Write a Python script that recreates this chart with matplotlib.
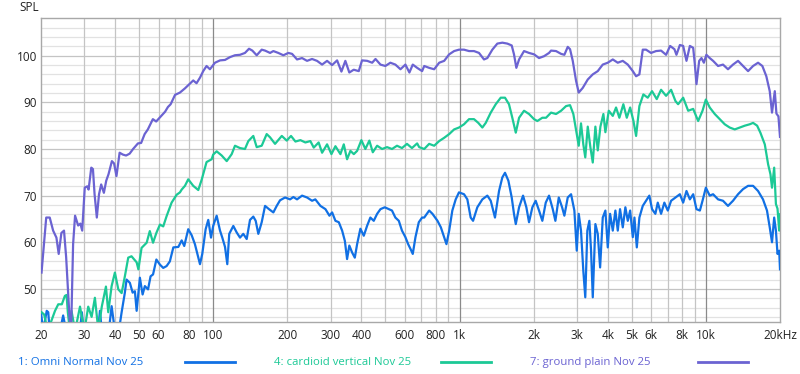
import matplotlib
matplotlib.use("Agg")
import matplotlib.pyplot as plt
from matplotlib.lines import Line2D

plt.rcParams['font.family'] = ['Open Sans', 'DejaVu Sans']

# Frekvencie (Hz) a hladiny (dB SPL) odcitane z grafu
omni_hz = [20, 20.4, 21.1, 21.4, 21.7, 23.9, 24.6, 25.3, 28.8, 29.3, 29.8, 34.1, 34.7, 35.3,
           37.7, 38.7, 39.2, 39.9, 41.4, 42.5, 43.8, 44.5, 45.9, 47.1, 48.1, 48.9, 50.4, 51.7,
           52.8, 54.4, 55.7, 57.0, 58.8, 60.8, 62.7, 64.7, 66.7, 68.9, 72.2, 74.5, 76.3, 79.2,
           81.8, 84.3, 87.0, 88.4, 90.3, 93.2, 95.5, 98.0, 100, 103.3, 106.6, 108.9, 111.7,
           114.1, 116.2, 120.7, 124.6, 128.5, 132.5, 136.8, 141.1, 145.5, 148.8, 152.5, 157.4,
           162.4, 168.5, 175.5, 181.1, 186.8, 195.8, 205.2, 211.6, 219, 229.5, 240.5, 252,
           259.8, 272.5, 285.6, 296.4, 304, 313.5, 323.6, 333.8, 342.4, 349.6, 357, 366.5,
           375.8, 384, 395.9, 408.7, 422, 434.6, 448.6, 463, 477.6, 497.2, 516.5, 532, 549,
           567, 584, 603, 618.7, 632, 646, 662.5, 683.5, 705, 719, 753, 776.6, 814, 840, 866.5,
           885, 908, 935, 965, 995, 1043, 1076, 1110, 1135, 1181, 1238, 1297, 1339, 1393, 1447,
           1492, 1530, 1579, 1629, 1664, 1692, 1745, 1811, 1868, 1915, 1976, 2038, 2103, 2169,
           2239, 2309, 2391, 2450, 2529, 2609, 2665, 2750, 2837, 2926, 2992, 3048, 3113, 3181,
           3240, 3303, 3366, 3420, 3475, 3561, 3641, 3722, 3815, 3910, 3998, 4086, 4190, 4293,
           4390, 4484, 4600, 4713, 4821, 4928, 5052, 5130, 5245, 5373, 5545, 5718, 5896, 6048,
           6238, 6380, 6580, 6785, 7006, 7227, 7524, 7845, 8090, 8344, 8612, 8883, 9161, 9458,
           9694, 10000, 10370, 10700, 11210, 11740, 12300, 12890, 13510, 14160, 14840, 15550,
           16290, 17060, 17710, 18170, 18560, 18940, 19250, 19540, 19850, 20000]
omni_db = [44.9, 41, 45.3, 45, 41, 41, 44.3, 41, 41, 45, 41, 41, 45.3, 41,
           41, 46.3, 44, 41, 41, 45, 49.2, 52, 51.3, 49.2, 49.5, 45.3, 52.4, 48.8,
           50.6, 49.9, 52.7, 53.1, 56.3, 55.2, 54.5, 54.9, 55.9, 58.9, 59, 60.4, 59.2, 62.8,
           61.5, 59.6, 56.7, 55.3, 57.5, 62.8, 64.8, 61, 63.5, 65.7, 62.5, 61, 59,
           55.3, 61.8, 63.5, 62.1, 61, 61.8, 60.7, 64.8, 65.5, 64.6, 61.8, 64.3,
           67.8, 67.1, 66.4, 67.8, 69, 69.6, 69.2, 69.7, 69.2, 70, 69.6, 68.9,
           69.2, 67.8, 67.1, 65.7, 66.4, 64.6, 64.3, 62.5, 60.3, 56.4, 59.3, 57.8,
           56.7, 59.6, 62.9, 61.4, 63.6, 65.3, 64.6, 66.1, 67.1, 67.5, 67.1, 66.8, 65.3,
           64.6, 62.5, 61.1, 59.6, 58.6, 57.5, 61.1, 64.3, 65.3, 65.3, 66.8, 66.1, 64.6, 63.2, 61.1,
           59.6, 62.5, 66.8, 69.2, 70.7, 70.3, 69.2, 65.3, 64.6, 67.5, 69.2, 70, 68.9, 65.3, 71,
           73.9, 74.9, 73.2, 69.6, 66.1, 63.9, 67.5, 70, 67.5, 64.3, 67.5, 68.9, 66.8, 64.6,
           68.5, 70, 67.1, 64.6, 69.6, 67.5, 65.7, 69.6, 70.3, 66.8, 58.2, 66.1, 62.5, 53.9,
           48.2, 62.5, 64.6, 58.2, 48.2, 63.9, 61.8, 54.6, 65.3, 66.8, 58.9, 66.1, 62.5, 66.8,
           62.5, 67.1, 63.2, 67.5, 64.6, 66.8, 61.1, 65.3, 58.9, 65.3, 67.8, 68.9, 70, 67.1,
           66.1, 68.5, 66.1, 68.5, 66.8, 68.9, 69.6, 70.3, 68.5, 71, 69.2, 70.3, 67.1, 66.8,
           68.9, 71.7, 70, 70.3, 69.2, 68.9, 67.8, 68.9, 70.3, 71.4, 72.1, 72.1,
           71, 69.2, 66.8, 63.2, 60, 65.3, 62.5, 57.5, 58.2, 54.2]

cardioid_hz = [20.1, 20.6, 21.3, 22.8, 23.5, 24.3, 25.0, 25.4, 25.7, 26.2, 26.6, 27.5, 28.8,
               30.0, 31.1, 32.1, 33.1, 34.2, 35.3, 36.7, 37.5, 38.7, 39.9, 41.2, 42.5, 43.8,
               45.2, 46.6, 48.9, 49.7, 51.2, 53.7, 55.3, 57.0, 58.8, 60.8, 62.7, 64.7, 67.8,
               69.9, 71.1, 73.3, 74.5, 76.8, 79.2, 83.0, 87.0, 89.9, 94.0, 98.6, 100, 103.3,
               108.3, 113.5, 118.9, 122.6, 128.5, 134.6, 138.9, 145.5, 150.2, 157.4, 164.9,
               170.2, 178.3, 189.9, 198.9, 207, 215.7, 226, 236.7, 248, 256, 268, 276.8, 290,
               302, 313.5, 328.5, 339, 349.6, 360.7, 372.3, 384, 399.6, 414.7, 430.5, 444.6,
               463, 485, 508, 532, 557.5, 584, 612, 641, 673, 686, 719, 753, 789, 827, 866.5,
               908, 951, 995, 1043, 1093, 1145, 1192, 1238, 1278, 1339, 1403, 1470, 1530, 1588,
               1638, 1692, 1745, 1828, 1915, 2007, 2070, 2169, 2245, 2353, 2465, 2584, 2707,
               2810, 2898, 2992, 3048, 3113, 3181, 3240, 3316, 3398, 3475, 3561, 3641, 3732,
               3838, 3910, 4036, 4190, 4320, 4456, 4625, 4776, 4928, 5083, 5210, 5373, 5576,
               5809, 6048, 6320, 6580, 6895, 7227, 7524, 7716, 8090, 8478, 8883, 9307, 9694,
               10000, 10370, 10870, 11390, 11930, 12500, 13100, 13730, 14390, 15070, 15550,
               16150, 16650, 17350, 17900, 18290, 18560, 18940, 19250, 19540, 19850, 20000]
cardioid_db = [45, 44.5, 41, 45.3, 46.7, 46.7, 48.5, 48.7, 45, 41, 45.3, 41, 46.2,
               41, 46.2, 44, 48.1, 41, 46.2, 50.5, 45, 50.6, 53.5, 49.9, 49.1, 52.7,
               56.7, 57, 55.7, 54.2, 58.8, 59.9, 62.4, 59.9, 62, 63.8, 63.4, 65.6, 68.5,
               69.6, 70.2, 70.7, 71.3, 72.1, 73.5, 72.1, 71.2, 73.5, 77.2, 77.8, 78.8, 79.5,
               78.6, 77.4, 78.9, 80.7, 80.2, 80, 81.7, 82.8, 80.4, 80.7, 83.2,
               82.5, 81.1, 82.8, 81.8, 82.8, 81.6, 81.9, 81.4, 81.7, 80.3, 81.4, 79.2, 81,
               78.9, 80.6, 78.9, 81, 77.8, 79.6, 78.9, 79.6, 81.9, 80, 81.8, 79.3,
               80.7, 80, 80.4, 80, 80.7, 80.2, 81.1, 80.2, 81.2, 80.4, 80, 81.1, 80.7, 81.7, 82.4,
               83.2, 84.2, 84.6, 85.3, 86.4, 86.4, 85.6, 84.6, 85.6, 87.8, 89.6, 91, 91, 89.6,
               86.7, 83.5, 86.7, 88.2, 87.5, 86.4, 86, 86.7, 86.7, 87.8, 87.5, 88.2, 89.2,
               89.4, 87.5, 83.2, 80.7, 85.5, 81, 78.2, 84.8, 80.4, 77.1, 84.8, 79.7, 84.8,
               87.5, 83.6, 88.2, 87.1, 88.9, 86.7, 89.6, 86.7, 88.9, 86, 82.8, 89.2, 91.7,
               91, 92.4, 90.7, 92.7, 91.4, 92.7, 90.3, 89.6, 91, 88.2, 88.6, 86, 88.2,
               90.6, 88.9, 87.5, 86.4, 85.3, 84.6, 84.2, 84.6, 85, 85.3, 85.6,
               85, 83.5, 81, 76.7, 74.6, 71.7, 76, 68.2, 67.2, 62.5, 66]

ground_hz = [20.1, 21.0, 21.7, 22.4, 23.1, 23.6, 24.2, 24.8, 25.3, 26.1, 26.5, 27.0, 27.5,
             28.3, 28.9, 29.4, 30.1, 30.8, 31.2, 32.0, 32.5, 33.0, 33.7, 34.4, 35.1, 36.0,
             36.8, 37.6, 38.8, 39.6, 40.5, 41.7, 43.0, 44.3, 45.8, 47.3, 49.5, 51.0, 52.7,
             54.3, 56.9, 58.7, 60.6, 63.8, 65.5, 67.2, 70.0, 73.3, 76.8, 80.4, 83.0, 85.6,
             88.4, 91.1, 94.0, 97.0, 101.7, 106.6, 111.7, 117.0, 122.6, 128.5, 134.6, 139.8,
             144.2, 150.2, 157.4, 162.4, 170.2, 175.5, 183.8, 192.7, 201.9, 209, 219, 229.5,
             240.5, 252, 264, 276.8, 290, 304, 318.5, 331.6, 344, 357, 372, 390, 402, 422, 442,
             456, 477.6, 500, 524, 549, 575.8, 603, 626, 646, 673, 705, 719, 753, 789, 827,
             866.5, 908, 951, 995, 1043, 1093, 1145, 1200, 1257, 1297, 1359, 1424, 1492, 1564,
             1629, 1664, 1701, 1745, 1828, 1915, 2007, 2103, 2204, 2309, 2353, 2465, 2584, 2665,
             2750, 2810, 2882, 2973, 3048, 3164, 3316, 3475, 3641, 3815, 3998, 4190, 4390, 4600,
             4821, 5052, 5210, 5373, 5545, 5718, 5992, 6279, 6580, 6895, 7160, 7456, 7597, 7845,
             8090, 8344, 8612, 8883, 9025, 9161, 9395, 9600, 9818, 10050, 10370, 10700, 11210,
             11740, 12300, 12890, 13510, 14160, 14840, 15550, 16290, 16960, 17600, 18170,
             18560, 19050, 19340, 19710, 20000]
ground_db = [53.5, 65.3, 65.3, 62.5, 61, 57.5, 62, 62.5, 56.8, 44, 41, 59.6, 65.7,
             63.6, 64, 62.5, 71.7, 72, 71.3, 76, 75.7, 70.3, 65.3, 70.3, 72.4, 70.6,
             73.2, 74.6, 77.4, 76.9, 74.2, 79.2, 78.8, 78.6, 79, 80, 81.2, 81.3, 83.2,
             84.2, 86.4, 85.9, 86.7, 88, 89, 89.6, 91.6, 92.1, 93, 94, 94.7, 94.1,
             95.3, 96.7, 97.8, 97.1, 98.5, 99, 99.1, 99.7, 100.1, 100.2, 100.6, 101.5,
             101.1, 100.1, 101.3, 101.1, 100.6, 101, 100.6, 100.1, 100.6, 100.4, 99.2, 99.5,
             98.9, 99.3, 98.9, 98.1, 98.9, 98, 99, 96.6, 98.9, 96.4, 97, 96.7, 99, 98.9, 98.5,
             99.3, 98.1, 97.8, 98.5, 98.1, 97.1, 98.1, 96.4, 98.1, 97.4, 96.7, 97.8, 97.4, 97.1, 98.5,
             98.9, 100.3, 101, 101.3, 101.3, 101, 101, 100.6, 99.2, 99.5, 101.3, 102.6, 102.8, 102.6,
             102.2, 100.3, 97.4, 99.2, 101, 100.6, 100.3, 99.5, 99.9, 100.6, 101.1, 101, 100.4, 100.2,
             101.9, 101.4, 98.9, 94.6, 92.1, 93.1, 94.9, 96, 96.7, 98.1, 98.5, 99.2, 98.5, 98.9,
             98.1, 96.7, 95.6, 96, 101.3, 101.3, 100.6, 101, 101.1, 100.2, 102.1, 101.4, 100.2, 102.3,
             102.1, 98.9, 102.1, 101.7, 98.1, 93.9, 98.9, 99.5, 98.5, 100.2, 99.5, 98.9, 97.8,
             98.1, 97.1, 98.1, 98.9, 97.8, 96.7, 97.8, 98.5, 97.8, 95.6, 92.4,
             87.8, 92.4, 87.6, 87, 82.6]

series_names = ['1: Omni Normal Nov 25', '4: cardioid vertical Nov 25', '7: ground plain Nov 25']
series_colors = ['#1170e4', '#1cc996', '#6b63d2']

x_ticks = [20, 30, 40, 50, 60, 80, 100, 200, 300, 400, 600, 800, 1000, 2000, 3000, 4000,
           5000, 6000, 8000, 10000, 20000]
x_labels = ['20', '30', '40', '50', '60', '80', '100', '200', '300', '400', '600', '800', '1k',
            '2k', '3k', '4k', '5k', '6k', '8k', '10k', '20kHz']
y_ticks = [50, 60, 70, 80, 90, 100]

fig = plt.figure(figsize=(8, 3.74), dpi=100)
ax = fig.add_axes([0.05125, 0.139, 0.92375, 0.813])
ax.set_xscale('log')
ax.set_xlim(20, 20000)
ax.set_ylim(42.9, 108.1)

# mriezka
for dec in [10, 100, 1000, 10000]:
    for m in range(1, 10):
        f = dec * m
        if f <= 20 or f >= 20000:
            continue
        c = '#8a8a8a' if m == 1 else '#c4c4c4'
        ax.axvline(f, color=c, lw=0.9, zorder=1)
for v in range(44, 108, 2):
    c = '#c4c4c4' if v % 10 == 0 else '#e2e2e2'
    ax.axhline(v, color=c, lw=0.9, zorder=0.5)

data = [(omni_hz, omni_db), (cardioid_hz, cardioid_db), (ground_hz, ground_db)]
for (hz, db), col in zip(data, series_colors):
    ax.plot(hz, db, color=col, lw=1.6, zorder=3, solid_joinstyle='round')

ax.set_xticks(x_ticks)
ax.set_xticklabels(x_labels)
ax.minorticks_off()
ax.set_xticks([], minor=True)
ax.set_yticks(y_ticks)
ax.tick_params(length=0, labelsize=8.5, colors='#222222', pad=5)
ax.tick_params(axis='y', pad=3)
for s in ax.spines.values():
    s.set_color('#a8a8a8')
    s.set_linewidth(1)

fig.text(0.024, 0.962, 'SPL', fontsize=8.5, color='#222222', va='bottom')

# legenda
legend_pos = [(0.0225, 0.231), (0.3425, 0.551), (0.6625, 0.872)]
for name, col, (tx, lx) in zip(series_names, series_colors, legend_pos):
    fig.text(tx, 0.031, name, fontsize=8.2, color=col, va='center')
    fig.add_artist(Line2D([lx, lx + 0.063], [0.031, 0.031], color=col, lw=2,
                          transform=fig.transFigure))

fig.savefig('out.png', dpi=100, facecolor='white')
